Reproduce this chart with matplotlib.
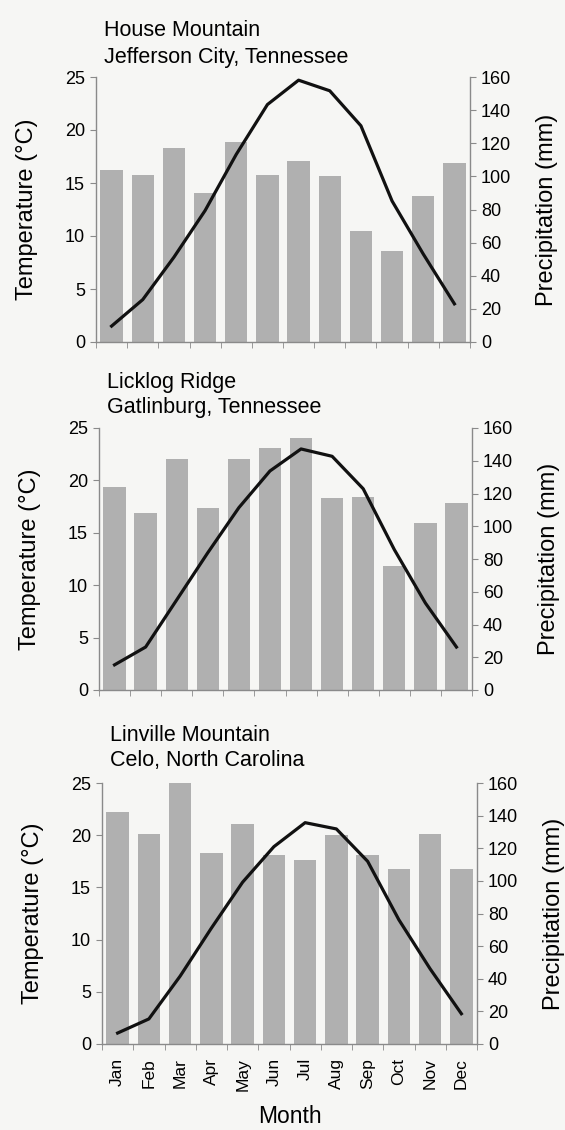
import matplotlib
matplotlib.use('Agg')
import matplotlib.pyplot as plt
import numpy as np

plt.rcParams['font.family'] = ['Liberation Sans', 'DejaVu Sans']

months = ['Jan', 'Feb', 'Mar', 'Apr', 'May', 'Jun',
          'Jul', 'Aug', 'Sep', 'Oct', 'Nov', 'Dec']

titles = [('House Mountain', 'Jefferson City, Tennessee'),
          ('Licklog Ridge', 'Gatlinburg, Tennessee'),
          ('Linville Mountain', 'Celo, North Carolina')]

# precipitation (mm), right axis
precip_house = [104, 101, 117, 90, 121, 101, 109, 100, 67, 55, 88, 108]
precip_licklog = [124, 108, 141, 111, 141, 148, 154, 117, 118, 76, 102, 114]
precip_linville = [142, 129, 160, 117, 135, 116, 113, 128, 116, 107, 129, 107]

# mean temperature (deg C), left axis
temp_house = [1.5, 4.0, 8.0, 12.4, 17.7, 22.4, 24.7, 23.7, 20.4, 13.3, 8.3, 3.6]
temp_licklog = [2.4, 4.1, 8.6, 13.1, 17.4, 20.9, 23.0, 22.3, 19.2, 13.4, 8.3, 4.1]
temp_linville = [1.05, 2.4, 6.5, 11.1, 15.5, 18.9, 21.2, 20.6, 17.5, 11.9, 7.2, 2.9]

precip = [precip_house, precip_licklog, precip_linville]
temps = [temp_house, temp_licklog, temp_linville]

bg = '#f6f6f4'
fig = plt.figure(figsize=(5.65, 11.3), dpi=100, facecolor=bg)

# axes boxes in pixels: left, top, right, bottom
boxes = [(96, 77, 470, 342), (99, 428, 472, 690), (102, 783, 477, 1044)]
title_off = [(8, 41, 14), (8, 40, 15), (8, 42, 17)]
W, H = 565, 1130

x = np.arange(12)
spine_c = '#8a8a8a'

for i, (l, t, r, b) in enumerate(boxes):
    w = r - l
    ax = fig.add_axes([l / W, 1 - b / H, w / W, (b - t) / H])
    ax2 = ax.twinx()
    ax.set_zorder(2)
    ax2.set_zorder(1)
    ax.patch.set_visible(False)
    ax2.patch.set_visible(False)

    ax2.bar(x, precip[i], width=0.72, color='#b0b0b0', zorder=1)
    ax.plot(x, temps[i], color='#111111', lw=2.3, zorder=3)

    ax.set_xlim(-0.5, 11.5)
    ax.set_ylim(0, 25)
    ax2.set_ylim(0, 160)
    ax.set_yticks([0, 5, 10, 15, 20, 25])
    ax2.set_yticks(range(0, 161, 20))

    for a in (ax, ax2):
        a.spines['top'].set_visible(False)
        for s in ('left', 'right', 'bottom'):
            a.spines[s].set_color(spine_c)
            a.spines[s].set_linewidth(1.0)
    ax.spines['right'].set_visible(False)
    ax2.spines['left'].set_visible(False)
    ax2.spines['bottom'].set_visible(False)

    ax.tick_params(axis='y', labelsize=13, length=4, color=spine_c, pad=4)
    ax2.tick_params(axis='y', labelsize=13, length=4, color=spine_c, pad=4)

    ax.set_xticks(np.arange(-0.5, 12, 1), minor=True)
    ax.tick_params(axis='x', which='minor', length=4, color=spine_c)
    if i == 2:
        ax.set_xticks(x)
        ax.set_xticklabels(months, rotation=90, fontsize=12.5)
        ax.tick_params(axis='x', which='major', length=0, pad=10)
        ax.set_xlabel('Month', fontsize=16.5, labelpad=10)
    else:
        ax.set_xticks([])

    ax.set_ylabel('Temperature (°C)', fontsize=17)
    ax.yaxis.set_label_coords(-58 / w, 0.5)
    ax2.set_ylabel('Precipitation (mm)', fontsize=17)
    ax2.yaxis.set_label_coords(1 + 66 / w, 0.5)

    dx, y1, y2 = title_off[i]
    ax.annotate(titles[i][0], xy=(0, 1), xycoords='axes fraction',
                xytext=(dx, y1), textcoords='offset pixels',
                fontsize=15.5, va='baseline', ha='left')
    ax.annotate(titles[i][1], xy=(0, 1), xycoords='axes fraction',
                xytext=(dx, y2), textcoords='offset pixels',
                fontsize=15.5, va='baseline', ha='left')

fig.savefig('out.png', dpi=100, facecolor=bg)
